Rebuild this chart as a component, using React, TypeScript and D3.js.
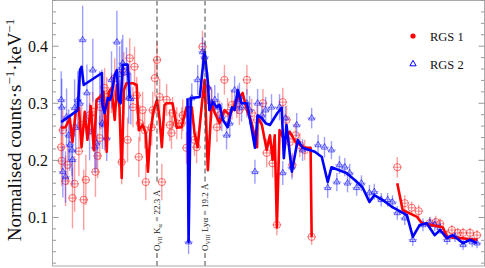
import React from 'react';
import * as d3 from 'd3';

// ─── layout ─────────────────────────────────────────────
const WIDTH = 485;
const HEIGHT = 268;
const frame = { left: 52.5, right: 484.5, top: 0.5, bottom: 266 };

// energy (keV) / normalised counts ranges
const xDomain = [0.3607, 1.168];
const yDomain = [0.015, 0.48];
const yTicks = [0.1, 0.2, 0.3, 0.4];
const yMinorStep = 0.02;
const binHalfWidth = 0.008; // keV

// ─── RGS 1 data ─────────────────────────────────────────
const rgs1E = [0.377,0.378,0.380,0.385,0.389,0.398,0.402,0.410,0.415,0.419,0.423,0.430,0.436,0.441,0.445,0.449,0.451,0.458,0.462,0.471,0.477,0.486,0.490,0.494,0.501,0.505,0.511,0.514,0.518,0.522,0.524,0.529,0.533,0.535,0.546,0.548,0.552,0.556,0.561,0.565,0.574,0.580,0.583,0.585,0.593,0.602,0.604,0.611,0.626,0.630,0.641,0.649,0.658,0.668,0.673,0.682,0.688,0.696,0.705,0.710,0.724,0.733,0.743,0.754,0.761,0.772,0.780,0.791,0.798,0.804,0.809,0.815,0.823,0.832,0.845,1.005,1.019,1.032,1.045,1.066,1.077,1.085,1.098,1.107,1.118,1.128,1.141,1.154];
const rgs1Y = [0.223,0.199,0.253,0.164,0.192,0.134,0.159,0.216,0.262,0.131,0.166,0.279,0.285,0.180,0.208,0.239,0.293,0.327,0.311,0.318,0.344,0.306,0.197,0.355,0.236,0.379,0.293,0.364,0.314,0.206,0.265,0.288,0.253,0.162,0.258,0.288,0.344,0.376,0.311,0.162,0.306,0.262,0.248,0.283,0.265,0.265,0.279,0.222,0.236,0.223,0.399,0.327,0.300,0.258,0.279,0.341,0.283,0.297,0.300,0.288,0.341,0.283,0.271,0.300,0.213,0.195,0.087,0.302,0.271,0.232,0.192,0.244,0.227,0.218,0.066,0.188,0.125,0.117,0.111,0.090,0.092,0.089,0.069,0.078,0.073,0.073,0.073,0.069];
const rgs1Err = [0.039,0.044,0.035,0.044,0.035,0.053,0.049,0.044,0.035,0.053,0.044,0.035,0.035,0.044,0.039,0.039,0.039,0.035,0.035,0.035,0.035,0.035,0.039,0.035,0.039,0.035,0.035,0.035,0.032,0.035,0.032,0.032,0.032,0.032,0.032,0.032,0.032,0.032,0.032,0.032,0.028,0.028,0.028,0.028,0.028,0.028,0.028,0.028,0.028,0.028,0.028,0.026,0.026,0.026,0.026,0.026,0.026,0.026,0.026,0.026,0.026,0.025,0.025,0.025,0.025,0.025,0.018,0.025,0.025,0.021,0.021,0.021,0.021,0.018,0.014,0.018,0.014,0.011,0.011,0.011,0.011,0.009,0.009,0.009,0.009,0.009,0.009,0.009];

// RGS 1 model (null = chip gap)
const rgs1ModelE = [0.377,0.385,0.393,0.398,0.404,0.410,0.415,0.421,0.426,0.432,0.438,0.443,0.449,0.456,0.462,0.466,0.471,0.477,0.481,0.486,0.490,0.494,0.499,0.511,0.518,0.522,0.529,0.535,0.539,0.544,0.550,0.556,0.561,0.565,0.570,0.574,0.585,0.593,0.602,0.611,0.621,0.626,0.632,0.640,0.645,0.651,0.658,0.664,0.673,0.682,0.692,0.705,0.716,0.724,0.733,0.743,0.744,0.752,0.761,0.767,0.772,0.776,0.780,0.785,0.794,0.804,0.815,0.823,0.832,0.843,0.845,0.925,1.005,1.015,1.042,1.051,1.090,1.098,1.154];
const rgs1ModelY = [0.257,0.258,0.274,0.232,0.285,0.292,0.223,0.285,0.236,0.295,0.218,0.306,0.311,0.320,0.215,0.320,0.327,0.271,0.332,0.292,0.169,0.323,0.335,0.335,0.332,0.253,0.262,0.248,0.180,0.253,0.288,0.306,0.271,0.223,0.297,0.300,0.300,0.257,0.258,0.293,0.293,0.248,0.223,0.300,0.341,0.183,0.300,0.283,0.265,0.288,0.279,0.306,0.318,0.288,0.265,0.223,0.276,0.262,0.218,0.244,0.201,0.244,0.083,0.253,0.236,0.250,0.232,0.227,0.222,0.222,0.066,null,0.160,0.113,0.101,0.090,0.083,0.066,0.061];

// ─── RGS 2 data ─────────────────────────────────────────
const rgs2E = [0.377,0.378,0.380,0.385,0.387,0.391,0.393,0.397,0.398,0.402,0.404,0.408,0.412,0.417,0.425,0.430,0.436,0.440,0.443,0.449,0.453,0.454,0.458,0.462,0.471,0.481,0.486,0.490,0.492,0.499,0.503,0.507,0.615,0.621,0.632,0.641,0.645,0.651,0.658,0.664,0.670,0.677,0.686,0.692,0.701,0.707,0.710,0.714,0.724,0.729,0.739,0.744,0.752,0.759,0.770,0.785,0.791,0.796,0.808,0.817,0.828,0.845,0.857,0.869,0.875,0.882,0.892,0.897,0.907,0.912,0.916,0.929,0.938,0.953,0.962,0.975,0.987,0.996,1.005,1.019,1.034,1.053,1.066,1.075,1.085,1.098,1.113,1.128,1.145,1.154];
const rgs2Y = [0.306,0.293,0.180,0.171,0.276,0.244,0.227,0.218,0.201,0.292,0.257,0.306,0.300,0.411,0.318,0.250,0.358,0.223,0.230,0.306,0.309,0.265,0.262,0.239,0.341,0.407,0.350,0.362,0.370,0.353,0.309,0.308,0.057,0.309,0.341,0.390,0.381,0.328,0.300,0.306,0.293,0.276,0.244,0.265,0.323,0.306,0.311,0.293,0.300,0.288,0.180,0.300,0.279,0.288,0.293,0.293,0.178,0.274,0.188,0.262,0.218,0.274,0.227,0.223,0.152,0.218,0.162,0.192,0.188,0.160,0.178,0.152,0.160,0.143,0.145,0.131,0.131,0.127,0.108,0.099,0.061,0.087,0.090,0.087,0.082,0.061,0.066,0.052,0.057,0.055];
const rgs2Err = [0.05,0.05,0.045,0.045,0.05,0.045,0.045,0.045,0.045,0.05,0.045,0.05,0.05,0.06,0.05,0.05,0.055,0.045,0.045,0.05,0.05,0.045,0.045,0.04,0.05,0.055,0.05,0.05,0.05,0.045,0.045,0.045,0.021,0.026,0.026,0.026,0.026,0.026,0.026,0.026,0.025,0.025,0.025,0.025,0.025,0.025,0.025,0.025,0.025,0.025,0.021,0.025,0.023,0.023,0.023,0.023,0.021,0.021,0.021,0.021,0.019,0.018,0.018,0.018,0.018,0.016,0.016,0.016,0.016,0.016,0.016,0.014,0.014,0.014,0.014,0.012,0.012,0.012,0.012,0.012,0.011,0.011,0.011,0.011,0.011,0.009,0.009,0.009,0.009,0.009];

// RGS 2 model (null = chip gap)
const rgs2ModelE = [0.377,0.408,0.412,0.415,0.419,0.453,0.454,0.458,0.464,0.468,0.471,0.477,0.481,0.484,0.488,0.492,0.501,0.505,0.560,0.613,0.615,0.619,0.636,0.641,0.645,0.651,0.654,0.660,0.668,0.673,0.679,0.688,0.696,0.701,0.707,0.714,0.724,0.729,0.739,0.744,0.752,0.759,0.767,0.781,0.789,0.793,0.798,0.808,0.819,0.828,0.851,0.864,0.875,0.882,0.910,0.925,0.940,0.953,0.962,0.977,0.996,1.023,1.034,1.047,1.060,1.075,1.085,1.098,1.109,1.128,1.141,1.154];
const rgs2ModelY = [0.267,0.288,0.358,0.364,0.332,0.353,0.297,0.283,0.309,0.306,0.314,0.350,0.358,0.306,0.300,0.367,0.368,0.309,null,0.309,0.057,0.309,0.311,0.358,0.390,0.337,0.288,0.302,0.293,0.297,0.271,0.258,0.293,0.288,0.323,0.300,0.300,0.276,0.222,0.279,0.274,0.265,0.262,0.283,0.292,0.204,0.262,0.180,0.236,0.222,0.215,0.206,0.162,0.188,0.178,0.166,0.153,0.127,0.139,0.131,0.118,0.104,0.066,0.087,0.090,0.069,0.078,0.064,0.069,0.055,0.061,0.055];

// ─── line identifications (Å) ───────────────────────────
const lineIon = ['O', 'O'];
const lineStage = ['VII', 'VIII'];
const lineTrans = ['K', 'Ly'];
const lineLambda = [22.3, 19.2];
const HC = 12.398; // keV·Å

const RED = '#ff0000';
const BLUE = '#0000ff';
const SERIF = 'Liberation Serif, serif';

const x = d3.scaleLinear().domain(xDomain).range([frame.left, frame.right]);
const y = d3.scaleLinear().domain(yDomain).range([frame.bottom, frame.top]);

const modelLine = d3.line<[number, number | null]>()
  .defined(d => d[1] !== null)
  .x(d => x(d[0]))
  .y(d => y(d[1] as number));

const triangle = d3.symbol(d3.symbolTriangle, 17)();

function Points({ es, ys, errs, color, kind }: {
  es: number[]; ys: number[]; errs: number[]; color: string; kind: 'circle' | 'tri';
}) {
  const faint = color === RED ? 'rgba(255,40,40,0.45)' : 'rgba(40,40,255,0.45)';
  const mark = color === RED ? 'rgba(255,0,0,0.55)' : 'rgba(0,0,255,0.6)';
  return (
    <g>
      {es.map((e, i) => (
        <g key={i}>
          <line x1={x(e)} x2={x(e)} y1={y(ys[i] - errs[i])} y2={y(ys[i] + errs[i])}
            stroke={faint} strokeWidth={1.4} />
          <line x1={x(e - binHalfWidth)} x2={x(e + binHalfWidth)} y1={y(ys[i])} y2={y(ys[i])}
            stroke={faint} strokeWidth={1.2} />
          {kind === 'circle'
            ? <circle cx={x(e)} cy={y(ys[i])} r={3.6} fill="none" stroke={mark} strokeWidth={1} />
            : <path d={triangle as string} transform={`translate(${x(e)},${y(ys[i])})`}
                fill="none" stroke={mark} strokeWidth={1} />}
        </g>
      ))}
    </g>
  );
}

export default function App() {
  const minor = d3.range(1, Math.round(yDomain[1] / yMinorStep) + 1).map(i => +(i * yMinorStep).toFixed(2));
  const rgs1Model = rgs1ModelE.map((e, i) => [e, rgs1ModelY[i]] as [number, number | null]);
  const rgs2Model = rgs2ModelE.map((e, i) => [e, rgs2ModelY[i]] as [number, number | null]);

  return (
    <svg width={WIDTH} height={HEIGHT} fontFamily={SERIF}
      style={{ position: 'absolute', left: 0, top: 0, background: '#fff' }}>
      {/* data */}
      <Points es={rgs1E} ys={rgs1Y} errs={rgs1Err} color={RED} kind="circle" />
      <Points es={rgs2E} ys={rgs2Y} errs={rgs2Err} color={BLUE} kind="tri" />
      <path d={modelLine(rgs1Model) ?? ''} fill="none" stroke={RED} strokeWidth={2.6} strokeLinejoin="round" />
      <path d={modelLine(rgs2Model) ?? ''} fill="none" stroke={BLUE} strokeWidth={2.6} strokeLinejoin="round" />

      {/* line identifications */}
      {lineLambda.map((lam, i) => {
        const lx = x(HC / lam);
        return (
          <g key={i}>
            <line x1={lx} x2={lx} y1={frame.top} y2={182} stroke="#444" strokeDasharray="5,3" />
            <line x1={lx} x2={lx} y1={253} y2={frame.bottom} stroke="#444" strokeDasharray="5,3" />
            <text transform={`translate(${lx + 3},251) rotate(-90)`} fontSize={9} fill="#222" fontFamily={SERIF}>
              {lineIon[i]}
              <tspan fontSize={6} dy={2}>{lineStage[i]}</tspan>
              <tspan dy={-2}>{' '}{lineTrans[i]}</tspan>
              {lineTrans[i] === 'K'
                ? <tspan fontSize={6.5} dy={2}>α</tspan>
                : <tspan>α</tspan>}
              <tspan dy={lineTrans[i] === 'K' ? -2 : 0}>{` = ${lam} Å`}</tspan>
            </text>
          </g>
        );
      })}

      {/* frame & ticks */}
      <rect x={frame.left} y={frame.top} width={frame.right - frame.left} height={frame.bottom - frame.top}
        fill="none" stroke="#aaa" strokeWidth={1} />
      {minor.map(v => {
        const major = yTicks.some(t => Math.abs(t - v) < 1e-6);
        const len = major ? 6 : 3.5;
        return (
          <g key={v}>
            <line x1={frame.left} x2={frame.left + len} y1={y(v)} y2={y(v)} stroke="#999" />
            <line x1={frame.right} x2={frame.right - len} y1={y(v)} y2={y(v)} stroke="#999" />
          </g>
        );
      })}
      {yTicks.map(t => (
        <text key={t} x={48} y={y(t)} dy="0.35em" textAnchor="end" fontSize={16} fill="#111" fontFamily={SERIF}>
          {t.toFixed(1)}
        </text>
      ))}

      {/* y label */}
      <text transform={`translate(21,130) rotate(-90)`} textAnchor="middle" fontSize={19} fill="#111" fontFamily={SERIF}>
        Normalised counts·s<tspan fontSize={13} dy={-7}>−1</tspan>
        <tspan dy={7}>·keV</tspan><tspan fontSize={13} dy={-7}>−1</tspan>
      </text>

      {/* legend */}
      <circle cx={413} cy={36} r={2.6} fill={RED} />
      <text x={430} y={40.5} fontSize={12.5} fill="#111" fontFamily={SERIF}>RGS 1</text>
      <path d={triangle as string} transform="translate(413,64)" fill="none" stroke={BLUE} strokeWidth={1} />
      <text x={430} y={68.5} fontSize={12.5} fill="#111" fontFamily={SERIF}>RGS 2</text>
    </svg>
  );
}
